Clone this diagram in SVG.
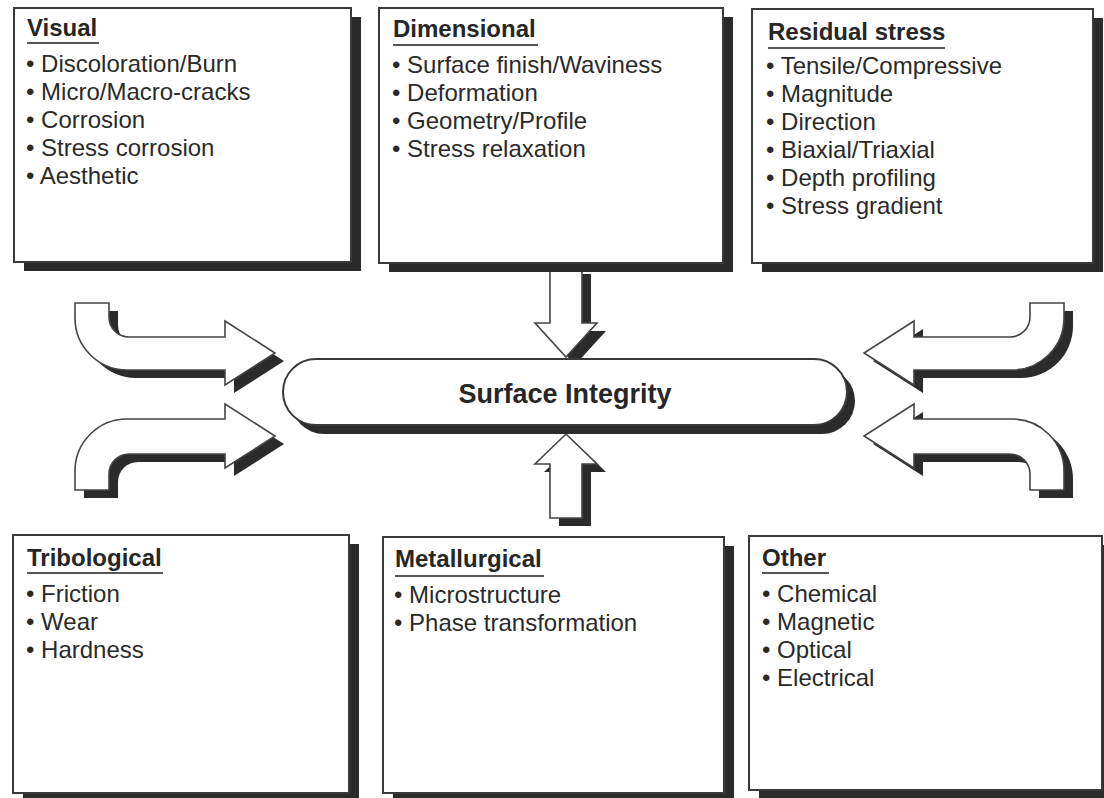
<svg xmlns="http://www.w3.org/2000/svg" width="1104" height="798" viewBox="0 0 1104 798">
  <style>
    .shadow { fill: #2b2b2b; }
    .box { fill: #ffffff; stroke: #3a3a3a; stroke-width: 2; }
    .arrow { fill: #ffffff; stroke: #444444; stroke-width: 1.6; stroke-linejoin: miter; }
    .title { font-family: "Liberation Sans", Arial, sans-serif; font-weight: bold; font-size: 24px; fill: #262626; }
    .item { font-family: "Liberation Sans", Arial, sans-serif; font-size: 24px; fill: #2a2a2a; }
    .rule { stroke: #555555; stroke-width: 2; }
    .center { font-family: "Liberation Sans", Arial, sans-serif; font-weight: bold; font-size: 27px; fill: #262626; text-anchor: middle; }
  </style>
  <defs>
    <!-- block arrow outlines -->
    <path id="a-ul" d="M75,303 H109 V317 A20,20 0 0 0 129,337 H225 V321 L275,353 L225,385 V370 H127 A52,52 0 0 1 75,318 Z"/>
    <path id="a-ll" d="M75,490 H109 V474 A20,20 0 0 1 129,454 H225 V468 L275,436 L225,404 V419 H127 A52,52 0 0 0 75,471 Z"/>
    <path id="a-ur" d="M1064,303 H1030 V317 A20,20 0 0 1 1010,337 H914 V321 L864,353 L914,385 V370 H1012 A52,52 0 0 0 1064,318 Z"/>
    <path id="a-lr" d="M1064,490 H1030 V474 A20,20 0 0 0 1010,454 H914 V468 L864,436 L914,404 V419 H1012 A52,52 0 0 1 1064,471 Z"/>
    <path id="a-down" d="M550,266 H582 V323 H597 L566,357 L535,323 H550 Z"/>
    <path id="a-up" d="M550,518 H582 V464 H597 L566,434 L535,464 H550 Z"/>
  </defs>

  <rect width="1104" height="798" fill="#ffffff"/>

  <!-- connectors: hollow block arrows with drop shadows -->
  <g id="connectors">
    <g transform="translate(9,8)" class="shadow">
      <use href="#a-ul"/>
      <use href="#a-ll"/>
      <use href="#a-ur"/>
      <use href="#a-lr"/>
      <use href="#a-down"/>
      <use href="#a-up"/>
    </g>
    <g class="arrow">
      <use href="#a-ul"/>
      <use href="#a-ll"/>
      <use href="#a-ur"/>
      <use href="#a-lr"/>
      <use href="#a-down"/>
      <use href="#a-up"/>
    </g>
  </g>

  <!-- central node -->
  <g id="surface-integrity">
    <rect class="shadow" x="291" y="368" width="564" height="66" rx="33"/>
    <rect class="box" x="283" y="359" width="564" height="66" rx="33" stroke-width="1.6"/>
    <text class="center" x="565" y="403">Surface Integrity</text>
  </g>

  <g id="visual">
    <rect class="shadow" x="24" y="17" width="337" height="254"/>
    <rect class="box" x="14" y="8" width="337" height="254"/>
    <text class="title" x="27" y="36">Visual</text>
    <line class="rule" x1="27" y1="43" x2="99" y2="43"/>
    <text class="item" x="26" y="72">• Discoloration/Burn</text>
    <text class="item" x="26" y="100">• Micro/Macro-cracks</text>
    <text class="item" x="26" y="128">• Corrosion</text>
    <text class="item" x="26" y="156">• Stress corrosion</text>
    <text class="item" x="26" y="184">• Aesthetic</text>
  </g>

  <g id="dimensional">
    <rect class="shadow" x="389" y="17" width="344" height="255"/>
    <rect class="box" x="379" y="8" width="344" height="255"/>
    <text class="title" x="393" y="37">Dimensional</text>
    <line class="rule" x1="393" y1="45" x2="538" y2="45"/>
    <text class="item" x="392" y="73">• Surface finish/Waviness</text>
    <text class="item" x="392" y="101">• Deformation</text>
    <text class="item" x="392" y="129">• Geometry/Profile</text>
    <text class="item" x="392" y="157">• Stress relaxation</text>
  </g>

  <g id="residual-stress">
    <rect class="shadow" x="762" y="18" width="341" height="254"/>
    <rect class="box" x="752" y="9" width="341" height="254"/>
    <text class="title" x="768" y="40">Residual stress</text>
    <line class="rule" x1="768" y1="48" x2="945" y2="48"/>
    <text class="item" x="766" y="74">• Tensile/Compressive</text>
    <text class="item" x="766" y="102">• Magnitude</text>
    <text class="item" x="766" y="130">• Direction</text>
    <text class="item" x="766" y="158">• Biaxial/Triaxial</text>
    <text class="item" x="766" y="186">• Depth profiling</text>
    <text class="item" x="766" y="214">• Stress gradient</text>
  </g>

  <g id="tribological">
    <rect class="shadow" x="23" y="544" width="336" height="258"/>
    <rect class="box" x="13" y="535" width="336" height="258"/>
    <text class="title" x="27" y="566">Tribological</text>
    <line class="rule" x1="27" y1="573" x2="163" y2="573"/>
    <text class="item" x="26" y="602">• Friction</text>
    <text class="item" x="26" y="630">• Wear</text>
    <text class="item" x="26" y="658">• Hardness</text>
  </g>

  <g id="metallurgical">
    <rect class="shadow" x="393" y="546" width="341" height="256"/>
    <rect class="box" x="383" y="537" width="341" height="256"/>
    <text class="title" x="395" y="567">Metallurgical</text>
    <line class="rule" x1="395" y1="576" x2="544" y2="576"/>
    <text class="item" x="394" y="603">• Microstructure</text>
    <text class="item" x="394" y="631">• Phase transformation</text>
  </g>

  <g id="other">
    <rect class="shadow" x="759" y="545" width="353" height="254"/>
    <rect class="box" x="749" y="536" width="353" height="254"/>
    <text class="title" x="762" y="566">Other</text>
    <line class="rule" x1="762" y1="573" x2="829" y2="573"/>
    <text class="item" x="762" y="602">• Chemical</text>
    <text class="item" x="762" y="630">• Magnetic</text>
    <text class="item" x="762" y="658">• Optical</text>
    <text class="item" x="762" y="686">• Electrical</text>
  </g>
</svg>
